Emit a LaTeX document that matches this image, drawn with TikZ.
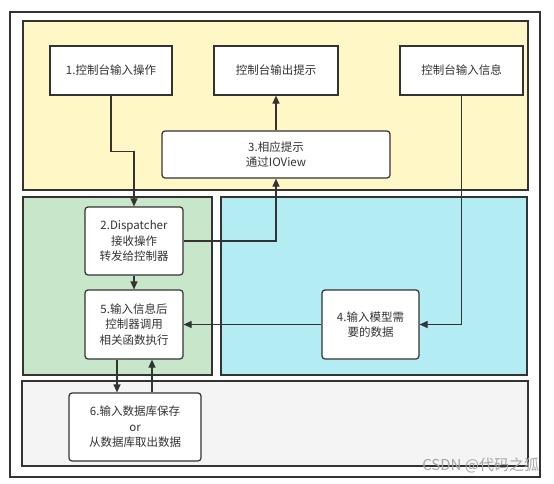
\documentclass[tikz,border=0pt]{standalone}
\usepackage{fontspec}
\setmainfont{Noto Sans CJK SC}
\usetikzlibrary{arrows.meta}
\definecolor{lineclr}{HTML}{333333}
\definecolor{yellowbg}{HTML}{FFF7C6}
\definecolor{greenbg}{HTML}{C8E6C9}
\definecolor{cyanbg}{HTML}{B3ECF3}
\definecolor{graybg}{HTML}{F4F4F4}
\begin{document}
\begin{tikzpicture}[x=1pt,y=-1pt,line width=1.2pt,draw=lineclr,
  >={Triangle[length=8pt,width=7pt]},
  box/.style={draw=lineclr,fill=white,text=lineclr,align=center,font=\fontsize{11.5}{15.5}\selectfont,inner sep=0pt},
  rbox/.style={box,rounded corners=3pt}]
\useasboundingbox (0,0) rectangle (554,483);
% areas
\draw[lineclr] (10,12) rectangle (540,477);
\draw[lineclr,fill=yellowbg] (23,21) rectangle (528,190);
\draw[lineclr,fill=greenbg] (23,197) rectangle (212,375);
\draw[lineclr,fill=cyanbg] (221,197) rectangle (527,375);
\draw[lineclr,fill=graybg] (22,381) rectangle (528,466);
% boxes
\node [box,name=b1,minimum width=122pt,minimum height=49pt] at (111,70.5){1.控制台输入操作};
\node [box,name=bout,minimum width=124pt,minimum height=49pt] at (276,70.5){控制台输出提示};
\node [box,name=bin,minimum width=123pt,minimum height=49pt] at (461.5,70.5){控制台输入信息};
\node [rbox,name=b3,minimum width=228pt,minimum height=47pt] at (276,154.5){3.相应提示\\通过IOView};
\node [rbox,name=b2,minimum width=98pt,minimum height=68pt] at (134,241){2.Dispatcher\\接收操作\\转发给控制器};
\node [rbox,name=b5,minimum width=98pt,minimum height=69pt] at (134,324.5){5.输入信息后\\控制器调用\\相关函数执行};
\node [rbox,name=b4,minimum width=97pt,minimum height=69pt] at (370.5,324.5){4.输入模型需\\要的数据};
\node [rbox,name=b6,minimum width=132pt,minimum height=68pt] at (135,427){6.输入数据库保存\\or\\从数据库取出数据};
\coordinate (down) at (117,0);
\coordinate (up) at (152,0);
% connectors
\draw[->] (b1.south)--++(0,56)-|(b2.north);
\draw[->] (b2.east)-|(b3.south);
\draw[->] (b3.north)--(bout.south);
\draw[->] (bin.south)|-(b4.east);
\draw[->] (b4.west)--(b5.east);
\draw[->] (b2.south)--(b5.north);
\draw[->] (b5.south -| down)--(b6.north -| down);
\draw[->] (b6.north -| up)--(b5.south -| up);
\node [text=black!35,font=\fontsize{15}{17}\selectfont,anchor=east,name=mark] at (543,465){CSDN @代码之狐};
\end{tikzpicture}
\end{document}
